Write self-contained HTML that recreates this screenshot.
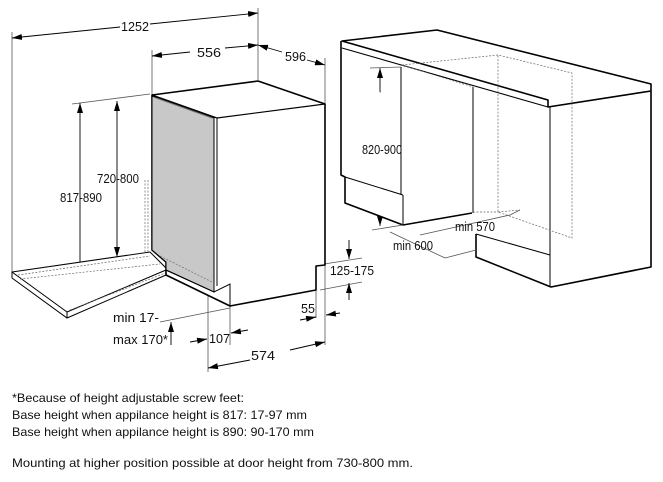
<!DOCTYPE html>
<html><head><meta charset="utf-8"><style>
html,body{margin:0;padding:0;background:#fff;}
svg{display:block;font-family:"Liberation Sans",sans-serif;}
</style></head><body>
<svg width="663" height="482" viewBox="0 0 663 482" xmlns="http://www.w3.org/2000/svg">
<defs>
<marker id="a" viewBox="0 0 10 6" refX="10" refY="3" markerWidth="10" markerHeight="6" orient="auto-start-reverse" markerUnits="userSpaceOnUse"><path d="M0,0 L10,3 L0,6z" fill="#000"/></marker>
</defs>
<g fill="none" stroke="#555" stroke-width="0.8">
<line x1="12" y1="32" x2="12" y2="275"/>
<line x1="258" y1="8" x2="258" y2="80"/>
<line x1="152" y1="50" x2="152" y2="95"/>
<line x1="325" y1="58" x2="325" y2="345"/>
<line x1="72" y1="104" x2="150" y2="94"/>
<line x1="72" y1="278" x2="165" y2="268"/>
<line x1="208" y1="290" x2="208" y2="372"/>
<line x1="230" y1="306" x2="230" y2="345"/>
<line x1="316" y1="290" x2="316" y2="318"/>
<line x1="318" y1="265" x2="362" y2="258"/>
<line x1="320" y1="290" x2="362" y2="282"/>
<line x1="160" y1="322" x2="230" y2="308"/>
</g>
<g stroke="#000" stroke-width="0.9" fill="none">
<line x1="12" y1="38" x2="120" y2="27" marker-start="url(#a)"/>
<line x1="150" y1="24" x2="258" y2="13" marker-end="url(#a)"/>
<line x1="152" y1="56" x2="190" y2="52" marker-start="url(#a)"/>
<line x1="225" y1="48" x2="258" y2="45" marker-end="url(#a)"/>
<line x1="258" y1="45" x2="282" y2="52" marker-start="url(#a)"/>
<line x1="307" y1="60" x2="325" y2="65" marker-end="url(#a)"/>
<line x1="80" y1="103" x2="80" y2="278" marker-start="url(#a)" marker-end="url(#a)"/>
<line x1="117" y1="101" x2="117" y2="257" marker-start="url(#a)" marker-end="url(#a)"/>
<line x1="171" y1="260" x2="171" y2="275" marker-end="url(#a)"/>
<line x1="171" y1="345" x2="171" y2="322" marker-end="url(#a)"/>
<line x1="349" y1="240" x2="349" y2="259" marker-end="url(#a)"/>
<line x1="349" y1="300" x2="349" y2="283" marker-end="url(#a)"/>
<line x1="300" y1="320" x2="316" y2="317" marker-end="url(#a)"/>
<line x1="340" y1="313" x2="326" y2="315" marker-end="url(#a)"/>
<line x1="190" y1="342" x2="207" y2="339" marker-end="url(#a)"/>
<line x1="248" y1="330" x2="231" y2="333" marker-end="url(#a)"/>
<line x1="208" y1="368" x2="250" y2="360" marker-start="url(#a)"/>
<line x1="290" y1="350" x2="325" y2="342" marker-end="url(#a)"/>
<line x1="380" y1="68" x2="380" y2="140" marker-start="url(#a)"/>
<line x1="380" y1="160" x2="380" y2="226" marker-end="url(#a)"/>
</g>
<g stroke="#000" stroke-width="1" fill="#fff">
<path d="M12,272 L150,252 L166,268 L166,275 L67,318 L12,278 Z"/>
<line x1="12" y1="272" x2="67" y2="312"/>
<line x1="67" y1="312" x2="166" y2="270"/>
<line x1="67" y1="312" x2="67" y2="318"/>
</g>
<g stroke="#666" stroke-width="0.7" stroke-dasharray="2,1.5" fill="none">
<line x1="18" y1="275" x2="150" y2="256"/>
<line x1="20" y1="279" x2="160" y2="264"/>
<line x1="70" y1="310" x2="168" y2="272"/>
<line x1="145" y1="180" x2="145" y2="252"/>
<line x1="148" y1="180" x2="148" y2="252"/>
<line x1="207" y1="203" x2="207" y2="285"/>
<line x1="210" y1="203" x2="210" y2="285"/>
</g>
<g stroke="#000" stroke-width="1.6" fill="#fff" stroke-linejoin="round">
<path d="M152,95 L258,81 L325,104 L325,265 L316,266 L316,290 L230,306 L166,275 L166,262 L152,250 Z"/>
</g>
<path d="M152,96 L214,118 L214,292 L166,270 L166,262 L152,250 Z" fill="#c8c8c8" stroke="#000" stroke-width="1"/>
<path d="M156,98 L212,118" stroke="#777" stroke-width="1" fill="none"/>
<path d="M152,95 L217,118 L325,104" fill="none" stroke="#000" stroke-width="1.2"/>
<line x1="217" y1="118" x2="217" y2="286" stroke="#000" stroke-width="1"/>
<path d="M166,270 L214,292 L230,284 L230,306" fill="none" stroke="#000" stroke-width="1"/>
<path d="M160,256 L212,282" stroke="#777" stroke-width="0.8" stroke-dasharray="2,1.5" fill="none"/>
<g stroke="#000" stroke-width="1.6" fill="#fff" stroke-linejoin="round">
<path d="M342,41 L437,30 L651,84 L651,91 L548,107 L548,100 Z M342,41 L548,100"/>
<path d="M341,41 L341,175 L345,177 L345,203 L403,225 L472,213"/>
<path d="M476,234 L476,257 L551,287 L651,267 L651,91"/>
</g>
<g stroke="#000" stroke-width="1" fill="none">
<line x1="342" y1="48" x2="548" y2="107"/>
<line x1="548" y1="107" x2="651" y2="91"/>
<line x1="401" y1="67" x2="401" y2="195"/>
<line x1="345" y1="177" x2="403" y2="195"/>
<line x1="403" y1="195" x2="403" y2="225"/>
<line x1="473" y1="87" x2="473" y2="213"/>
<line x1="550" y1="107" x2="550" y2="287"/>
<line x1="476" y1="234" x2="550" y2="255"/>
</g>
<g stroke="#666" stroke-width="0.7" stroke-dasharray="2,1.5" fill="none">
<path d="M402,65 L498,55 L572,73 L572,238 L498,212 L498,55"/>
<path d="M402,65 L473,87"/>
<path d="M473,212 L498,212"/>
<path d="M498,212 L520,210"/>
</g>
<g stroke="#555" stroke-width="0.8" fill="none">
<line x1="370" y1="68" x2="401" y2="67"/>
<line x1="372" y1="230" x2="403" y2="225"/>
<line x1="390" y1="232" x2="445" y2="258"/>
<line x1="476" y1="250" x2="445" y2="258"/>
<line x1="420" y1="235" x2="510" y2="215"/>
<line x1="510" y1="215" x2="520" y2="210"/>
</g>
<g font-size="12.5" fill="#111" lengthAdjust="spacingAndGlyphs">
<text x="121" y="31" textLength="28" lengthAdjust="spacingAndGlyphs">1252</text>
<text x="197" y="57" textLength="24" lengthAdjust="spacingAndGlyphs">556</text>
<text x="285" y="61" textLength="21" lengthAdjust="spacingAndGlyphs">596</text>
<text x="97" y="183" textLength="42" lengthAdjust="spacingAndGlyphs">720-800</text>
<text x="60" y="202" textLength="42" lengthAdjust="spacingAndGlyphs">817-890</text>
<text x="330" y="275" textLength="44" lengthAdjust="spacingAndGlyphs">125-175</text>
<text x="301" y="313" textLength="14" lengthAdjust="spacingAndGlyphs">55</text>
<text x="209" y="343" textLength="21" lengthAdjust="spacingAndGlyphs">107</text>
<text x="251" y="360" textLength="24" lengthAdjust="spacingAndGlyphs">574</text>
<text x="113" y="322" textLength="46" lengthAdjust="spacingAndGlyphs">min 17-</text>
<text x="113" y="344" textLength="55" lengthAdjust="spacingAndGlyphs">max 170*</text>
<text x="362" y="154" textLength="40" lengthAdjust="spacingAndGlyphs">820-900</text>
<text x="455" y="231" textLength="40" lengthAdjust="spacingAndGlyphs">min 570</text>
<text x="393" y="250" textLength="40" lengthAdjust="spacingAndGlyphs">min 600</text>
</g>
<g font-size="12" fill="#111">
<text x="12" y="402" textLength="232" lengthAdjust="spacingAndGlyphs">*Because of height adjustable screw feet:</text>
<text x="12" y="419" textLength="295" lengthAdjust="spacingAndGlyphs">Base height when appilance height is 817: 17-97 mm</text>
<text x="12" y="436" textLength="302" lengthAdjust="spacingAndGlyphs">Base height when appilance height is 890: 90-170 mm</text>
<text x="12" y="467" textLength="401" lengthAdjust="spacingAndGlyphs">Mounting at higher position possible at door height from 730-800 mm.</text>
</g>
</svg>
</body></html>
